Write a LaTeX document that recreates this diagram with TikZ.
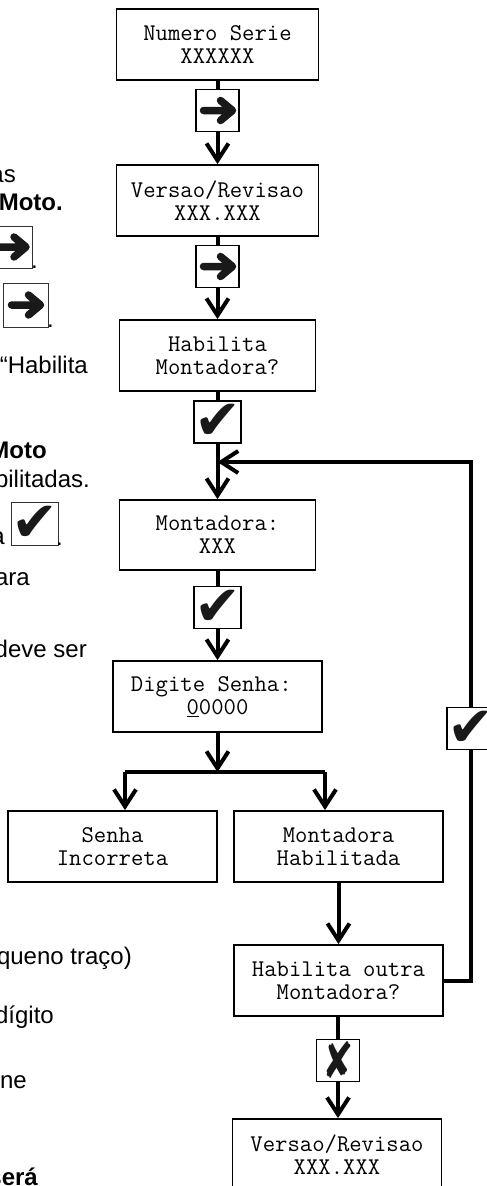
\documentclass[tikz,border=0pt]{standalone}
\usepackage{fontspec}
\usepackage{graphicx}
\setmainfont{Liberation Sans}
\newfontfamily\glyphfont{DejaVu Sans}
\usetikzlibrary{arrows.meta}

\tikzset{
  screen/.style={draw, line width=1.8pt, minimum width=209pt, minimum height=71pt,
    inner sep=0pt, align=center,
    font=\ttfamily\fontsize{24}{23.3}\selectfont},
  keybox/.style={draw, fill=white, line width=1.8pt, minimum width=43pt,
    minimum height=42pt, inner sep=0pt},
  thinkey/.style={line width=0.9pt, draw=black!80},
  arrowkey/.style={keybox, path picture={
    \draw[line width=7.5pt, line cap=round, line join=round, black!90]
      ([shift={(-14,0)}]path picture bounding box.center)
        -- ([shift={(14,0)}]path picture bounding box.center)
      ([shift={(3,-10)}]path picture bounding box.center)
        -- ([shift={(15,0)}]path picture bounding box.center)
        -- ([shift={(3,10)}]path picture bounding box.center);}},
  checkkey/.style={keybox, font=\glyphfont\fontsize{56}{56}\selectfont, text=black!90},
  crosskey/.style={keybox, font=\glyphfont\fontsize{50}{50}\selectfont, text=black!90},
  flow/.style={line width=4pt},
  flowarrow/.style={flow, -{Straight Barb[length=17pt,width=22pt]}},
  note/.style={inner sep=0pt, anchor=base east, font=\fontsize{24}{28}\selectfont},
  boldnote/.style={note, font=\fontsize{24}{28}\selectfont\bfseries},
}

\begin{document}
\begin{tikzpicture}[x=1pt, y=-1pt]
\useasboundingbox (0,0) rectangle (487,1186);
\clip (0,0) rectangle (487,1186);

% ---- menu screens ----
\node[screen, minimum width=202pt] (serie) at (217.5,44.5) {Numero Serie\\XXXXXX};
\node[screen, minimum width=202pt] (ver1)  at (217.5,200.5) {Versao/Revisao\\XXX.XXX};
\node[screen, minimum width=196pt] (hab)   at (217.5,355.5) {Habilita\\Montadora?};
\node[screen, minimum width=196pt, minimum height=70pt] (mont) at (217.5,535) {Montadora:\\XXX};
\node[screen] (senha) at (217.5,696.5) {Digite Senha:\hphantom{0}\\\underline{0}0000};
\node[screen] (incorreta)  at (112.5,846.5) {Senha\\Incorreta};
\node[screen] (habilitada) at (338.5,846.5) {Montadora\\Habilitada};
\node[screen] (outra) at (338.5,980.5) {Habilita outra\\Montadora?};
\node[screen] (ver2)  at (337,1154.5) {Versao/Revisao\\XXX.XXX};

% ---- branch points ----
\coordinate (join) at (217.5,462);
\coordinate (split) at (217.5,772);
\coordinate (leftdrop) at (125,772);
\coordinate (rightdrop) at (325,772);

% ---- loop back to the manufacturer choice ----
\node[checkkey] (loopkey) at (470.5,728.5) {✔};
\draw[flow] (outra.east) -| (loopkey.south);
\draw[flowarrow] (loopkey.north) |- (join);

% ---- keys between screens ----
\node[arrowkey] (key1) at (217.5,110.5) {};
\node[arrowkey] (key2) at (217.5,266.5) {};
\node[checkkey] (key3) at (217.5,422) {✔};
\node[checkkey] (key4) at (217.5,607.5) {✔};
\node[crosskey] (key5) at (338,1060.5) {\scalebox{0.75}[1]{✘}};

\draw[flow] (serie) -- (key1);
\draw[flowarrow] (key1) -- (ver1);
\draw[flow] (ver1) -- (key2);
\draw[flowarrow] (key2) -- (hab);
\draw[flow] (hab) -- (key3);
\draw[flowarrow] (key3) -- (mont);
\draw[flow] (mont) -- (key4);
\draw[flowarrow] (key4) -- (senha);
\draw[flowarrow] (senha) -- (split);
\draw[flow] (leftdrop) -- (rightdrop);
\draw[flowarrow] (leftdrop) -- (leftdrop |- incorreta.north);
\draw[flowarrow] (rightdrop) -- (rightdrop |- habilitada.north);
\draw[flowarrow] (habilitada.south -| outra) -- (outra);
\draw[flow] (outra.south -| key5) -- (key5);
\draw[flowarrow] (key5) -- (key5 |- ver2.north);

% ---- surrounding text column ----
\node[note] (t1) at (16,182) {as};
\node[boldnote] (t2) at (63,210) {Moto.};
\node[arrowkey, thinkey, minimum width=42pt] (s1) at (11,247) {};
\node[note, anchor=base west] (d1) at (31,268) {.};
\node[arrowkey, thinkey, minimum width=45pt, minimum height=44pt] (s2) at (25.5,305) {};
\node[note, anchor=base west] (d2) at (47,327) {.};
\node[note] (t3) at (88,373) {“Habilita};
\node[boldnote] (t4) at (47,458) {Moto};
\node[note] (t5) at (90,487) {bilitadas.};
\node[note] (t6) at (5,544) {a};
\node[checkkey, thinkey, minimum width=45pt, minimum height=43pt] (s3) at (34.5,523.5) {✔};
\node[note, anchor=base west] (d3) at (56,545) {.};
\node[note] (t7) at (30,585) {ara};
\node[note] (t8) at (87,657) {deve ser};
\node[note] (t9) at (132,964) {queno traço)};
\node[note] (t10) at (54,1023) {dígito};
\node[note] (t11) at (27,1088) {ne};
\node[boldnote] (t12) at (38,1185) {será};
\end{tikzpicture}
\end{document}
